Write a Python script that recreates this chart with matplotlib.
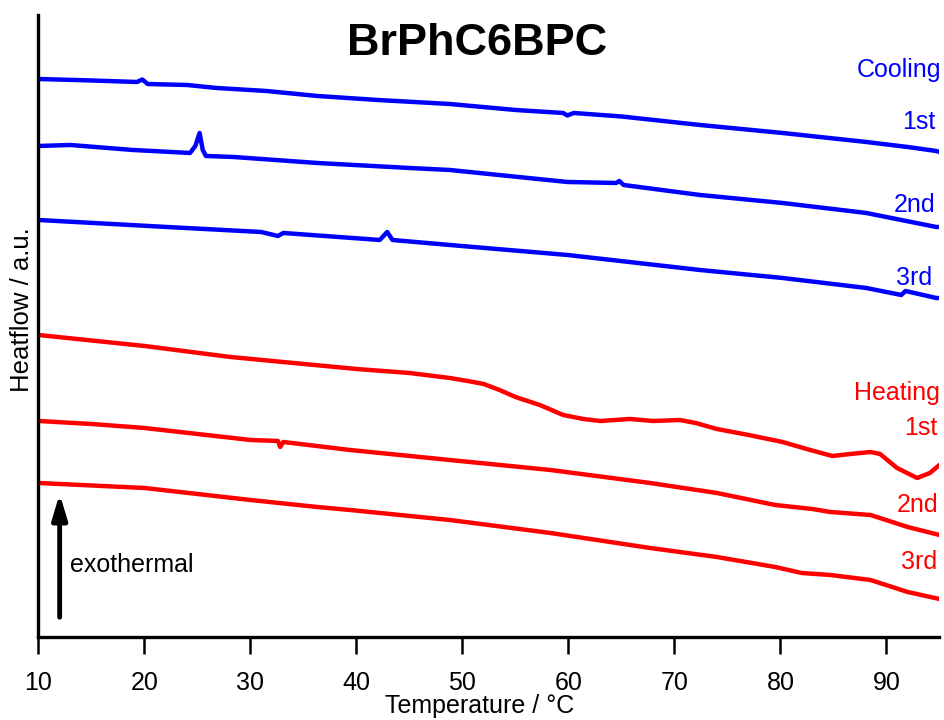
import matplotlib.pyplot as plt

plt.rcParams['font.family'] = ['Liberation Sans', 'DejaVu Sans']

# DSC traces, temperature in degC vs heatflow (arbitrary units, offset per run)
T_cool1 = [10, 15, 19.3, 19.8, 20.3, 22, 24, 26.8, 31.5, 36.3, 42, 48.8, 55,
           59.5, 59.9, 60.5, 65, 72.4, 80.2, 88.1, 92, 94.7, 95]
hf_cool1 = [558, 556.5, 555, 557.5, 553, 552.5, 552, 549, 546, 541, 537, 533,
            527, 524, 521.5, 524, 520.5, 512, 504, 495, 490, 486, 485]

T_cool2 = [10, 13, 18.9, 24.3, 24.8, 25.2, 25.5, 25.8, 28.4, 36.3, 45, 48.8,
           59.9, 64.5, 64.8, 65.2, 72.4, 80.2, 88.1, 94.7, 95]
hf_cool2 = [491, 492, 487, 484, 491, 504, 487, 481, 480, 474, 469, 467, 455,
            454, 456, 452, 442, 434, 424, 410, 410]

T_cool3 = [10, 22.1, 31, 32.6, 33.1, 42.2, 42.9, 43.4, 48.8, 59.9, 72.4, 80.2,
           88.1, 91.4, 91.8, 94.7, 95]
hf_cool3 = [417, 410, 405, 401, 404, 397, 405, 397, 392, 382, 367, 359, 349,
            342, 346, 339, 339]

T_heat1 = [10, 20, 28.1, 40, 45, 48.8, 50.5, 52, 53.5, 55, 57.3, 59.5, 61.4,
           63, 65.8, 68, 70.5, 72, 74, 77, 80.2, 82.8, 84.9, 86.6, 88.5, 89.4,
           91, 92.9, 94.1, 95]
hf_heat1 = [302, 291, 280, 268, 264, 259, 256, 253, 247, 240, 232, 222, 218,
            216, 218, 216, 217, 214, 208, 202, 195, 187, 181, 183, 185, 183,
            169, 159, 164, 172]

T_heat2 = [10, 15, 20, 25, 30, 32.6, 32.8, 33.1, 39.4, 48.8, 58.3, 67.7, 74,
           79.5, 83, 84.7, 88.5, 92, 95]
hf_heat2 = [216, 213, 209, 203, 197, 196, 190, 195, 187, 177, 167, 154, 144,
            132, 128, 125, 122, 110, 102]

T_heat3 = [10, 20, 30, 36.3, 39.4, 48.8, 58.3, 67.7, 74, 79.5, 82, 84.7, 88.5,
           92, 95]
hf_heat3 = [154, 149, 137, 130, 127, 117, 104, 89, 80, 70, 64, 62, 57, 45, 38]

cool_labels = ['Cooling', '1st', '2nd', '3rd']
heat_labels = ['Heating', '1st', '2nd', '3rd']

fig = plt.figure(figsize=(9.45, 7.2), dpi=100)
ax = fig.add_axes([0.0407, 0.1153, 0.9534, 0.8639])

for T, hf in [(T_cool1, hf_cool1), (T_cool2, hf_cool2), (T_cool3, hf_cool3)]:
    ax.plot(T, hf, color='#0000ff', lw=3.2)
for T, hf in [(T_heat1, hf_heat1), (T_heat2, hf_heat2), (T_heat3, hf_heat3)]:
    ax.plot(T, hf, color='#ff0000', lw=3.2)

ax.set_xlim(10, 95)
ax.set_ylim(0, 622)
ax.set_xticks(range(10, 100, 10))
ax.set_yticks([])
ax.tick_params(axis='x', direction='out', length=12.5, width=1.8, labelsize=18, pad=12)
for side in ['top', 'right']:
    ax.spines[side].set_visible(False)
for side in ['left', 'bottom']:
    ax.spines[side].set_linewidth(2.4)

ax.set_xlabel('Temperature / °C', fontsize=18, va='center')
ax.xaxis.set_label_coords(0.49, -0.111)
fig.text(0.023, 0.57, 'Heatflow / a.u.', rotation=90, fontsize=18.5,
         ha='center', va='center')
fig.text(0.505, 0.94, 'BrPhC6BPC', fontsize=32.5, fontweight='bold',
         ha='center', va='center')

# run labels on the right
for lab, x, y in zip(cool_labels, [95.2, 94.6, 94.6, 94.3], [567, 515, 432, 359]):
    ax.text(x, y, lab, color='#0000ff', fontsize=18, ha='right', va='center',
            clip_on=False)
for lab, x, y in zip(heat_labels, [95.0, 94.8, 94.9, 94.8], [244, 209, 132, 75]):
    ax.text(x, y, lab, color='#ff0000', fontsize=18, ha='right', va='center',
            clip_on=False)

# exothermal direction
ax.annotate('', xy=(12, 146), xytext=(12, 17),
            arrowprops=dict(arrowstyle='-|>,head_width=0.45,head_length=1.5',
                            color='black', lw=3.5))
ax.text(13.0, 72, 'exothermal', fontsize=18, ha='left', va='center')

fig.savefig('out.png', dpi=100)
